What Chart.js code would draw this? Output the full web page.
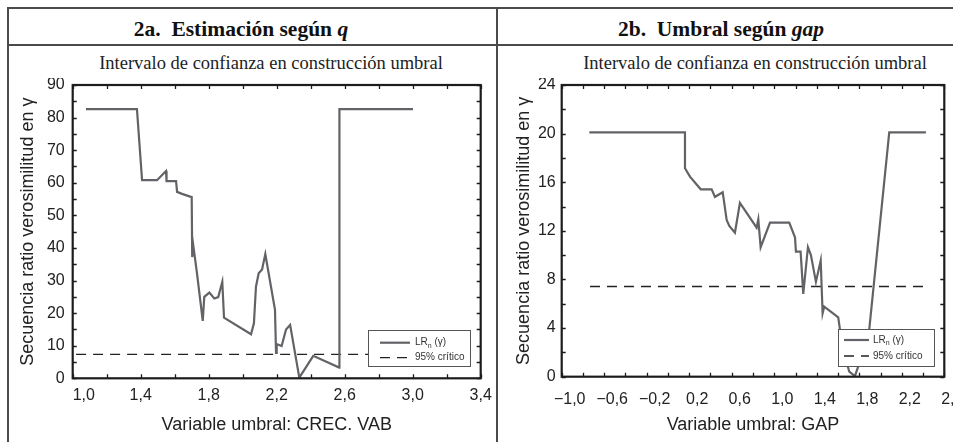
<!DOCTYPE html>
<html>
<head>
<meta charset="utf-8">
<script src="https://cdn.jsdelivr.net/npm/chart.js@4.4.0/dist/chart.umd.min.js"></script>
<style>
  body { margin: 0; background: #fff; }
  #page { position: relative; width: 953px; height: 442px; overflow: hidden; background: #fff; }
  .ln { position: absolute; background: #4a4a4a; }
  .head { position: absolute; font: bold 21.5px "Liberation Serif", serif; color: #111; text-align: center; white-space: pre; line-height: 24px; }
  .sub { position: absolute; font: 18.5px "Liberation Serif", serif; color: #222; text-align: center; white-space: nowrap; line-height: 20px; }
  canvas { position: absolute; }
</style>
</head>
<body>
<div id="page">
  <div class="ln" style="left:7px;top:7px;width:946px;height:2px"></div>
  <div class="ln" style="left:7px;top:44px;width:946px;height:2px"></div>
  <div class="ln" style="left:7px;top:7px;width:2px;height:435px"></div>
  <div class="ln" style="left:496px;top:7px;width:2px;height:435px"></div>

  <div class="head" style="left:41px;top:17px;width:400px">2a.  Estimación según <i>q</i></div>
  <div class="head" style="left:521px;top:17px;width:400px">2b.  Umbral según <i>gap</i></div>
  <div class="sub" style="left:71px;top:53px;width:400px">Intervalo de confianza en construcción umbral</div>
  <div class="sub" style="left:555px;top:53px;width:400px">Intervalo de confianza en construcción umbral</div>

  <canvas id="chartQ" width="486" height="364" style="left:10px;top:78px"></canvas>
  <canvas id="chartGap" width="480" height="364" style="left:500px;top:78px"></canvas>
</div>

<script>
// 2a: umbral según crecimiento del VAB
const crecX = [1.078, 1.378, 1.408, 1.496, 1.549, 1.552, 1.608, 1.614, 1.643, 1.700, 1.703, 1.709, 1.731, 1.765,
  1.774, 1.804, 1.833, 1.856, 1.880, 1.890, 2.049, 2.066, 2.078, 2.094, 2.114, 2.133, 2.190, 2.196, 2.200,
  2.229, 2.255, 2.279, 2.333, 2.415, 2.568, 2.569, 3.002];
const crecLR = [82.6, 82.6, 60.8, 60.8, 63.6, 60.5, 60.5, 57.2, 56.6, 55.6, 37.2, 40.9, 32.3, 17.6,
  25.0, 26.3, 24.5, 24.9, 29.6, 18.6, 13.5, 16.9, 28.1, 32.2, 33.4, 38.1, 21.0, 7.8, 10.5,
  9.9, 15.0, 16.4, 0.2, 6.9, 3.3, 82.6, 82.6];
const crecCritX = [1.02, 3.0];
const crecCrit = [7.35, 7.35];
const crecXTicks = [1.0, 1.4, 1.8, 2.2, 2.6, 3.0, 3.4];
const crecYTicks = [0, 10, 20, 30, 40, 50, 60, 70, 80, 90];

// 2b: umbral según gap
const gapX = [-0.740, 0.160, 0.160, 0.207, 0.308, 0.411, 0.442, 0.515, 0.552, 0.577, 0.630, 0.677, 0.834,
  0.850, 0.872, 0.960, 1.141, 1.195, 1.204, 1.248, 1.273, 1.317, 1.345, 1.392, 1.437, 1.455, 1.470,
  1.602, 1.618, 1.675, 1.706, 1.759, 1.800, 1.894, 2.082, 2.427];
const gapLR = [20.1, 20.1, 17.15, 16.46, 15.42, 15.42, 14.8, 15.18, 12.9, 12.4, 11.85, 14.3, 12.26,
  12.95, 10.65, 12.67, 12.67, 11.47, 10.29, 10.29, 6.81, 10.65, 10.0, 7.8, 9.55, 5.22, 5.76,
  4.89, 3.9, 1.37, 0.41, 0.05, 1.1, 3.9, 20.1, 20.1];
const gapCritX = [-0.734, 2.40];
const gapCrit = [7.42, 7.42];
const gapXTicks = [-1.0, -0.6, -0.2, 0.2, 0.6, 1.0, 1.4, 1.8, 2.2, 2.6];
const gapYTicks = [0, 4, 8, 12, 16, 20, 24];

const legendLabels = [['LR', 'n', ' (\u03b3)'], ['95% cr\u00edtico']];

const pts = (xs, ys) => xs.map((v, i) => ({ x: v, y: ys[i] }));
const fmt = v => (v < 0 ? '\u2212' : '') + Math.abs(v).toFixed(1).replace('.', ',');
const sans = '"Liberation Sans", Arial, sans-serif';

// marco completo con marcas hacia dentro en los cuatro lados
const framePlugin = {
  id: 'frame',
  afterDatasetsDraw(chart, args, o) {
    const { ctx, chartArea: a, scales: { x, y } } = chart;
    ctx.save();
    ctx.strokeStyle = '#1c1c1c';
    ctx.lineWidth = 1.3;
    ctx.beginPath();
    for (let v = x.min; v <= x.max + 1e-9; v += o.xStep) {
      const px = Math.round(x.getPixelForValue(v)) + 0.5;
      ctx.moveTo(px, a.bottom); ctx.lineTo(px, a.bottom - 4);
      ctx.moveTo(px, a.top); ctx.lineTo(px, a.top + 4);
    }
    for (let v = y.min; v <= y.max + 1e-9; v += o.yStep) {
      const py = Math.round(y.getPixelForValue(v)) + 0.5;
      ctx.moveTo(a.left, py); ctx.lineTo(a.left + 4, py);
      ctx.moveTo(a.right, py); ctx.lineTo(a.right - 4, py);
    }
    ctx.stroke();
    ctx.lineWidth = 2.2;
    ctx.strokeRect(a.left, a.top, a.width, a.height);
    ctx.restore();
  }
};

const legendPlugin = {
  id: 'boxLegend',
  afterDatasetsDraw(chart, args, o) {
    const { ctx, chartArea: a } = chart;
    const x0 = Math.round(a.right - o.right - o.width);
    const y0 = Math.round(a.bottom - o.bottom - o.height);
    ctx.save();
    ctx.fillStyle = '#fff';
    ctx.fillRect(x0, y0, o.width, o.height);
    ctx.strokeStyle = '#555';
    ctx.lineWidth = 1;
    ctx.strokeRect(x0 + 0.5, y0 + 0.5, o.width, o.height);
    chart.data.datasets.forEach((ds, i) => {
      const cy = y0 + o.rowY[i];
      ctx.strokeStyle = ds.borderColor;
      ctx.lineWidth = ds.borderWidth;
      ctx.setLineDash(ds.borderDash || []);
      ctx.beginPath();
      ctx.moveTo(x0 + o.lineX, cy);
      ctx.lineTo(x0 + o.lineX + o.lineW, cy);
      ctx.stroke();
      ctx.setLineDash([]);
      const parts = legendLabels[i];
      ctx.fillStyle = '#333';
      ctx.textBaseline = 'middle';
      let tx = x0 + o.textX;
      ctx.font = '10px ' + sans;
      ctx.fillText(parts[0], tx, cy);
      tx += ctx.measureText(parts[0]).width;
      if (parts[1]) {
        ctx.font = '7px ' + sans;
        ctx.fillText(parts[1], tx, cy + 3);
        tx += ctx.measureText(parts[1]).width;
        ctx.font = '10px ' + sans;
        ctx.fillText(parts[2], tx, cy);
      }
    });
    ctx.restore();
  }
};

function makeChart(id, c) {
  return new Chart(document.getElementById(id), {
    type: 'scatter',
    data: {
      datasets: [
        { label: 'LRn', data: pts(c.x, c.lr), showLine: true, borderColor: '#636367', borderWidth: 2.2,
          pointRadius: 0, tension: 0 },
        { label: '95% crítico', data: pts(c.critX, c.crit), showLine: true, borderColor: '#222',
          borderWidth: 1.3, borderDash: [10, 7], pointRadius: 0 }
      ]
    },
    options: {
      responsive: false,
      animation: false,
      events: [],
      layout: { padding: { left: 0, top: 7, right: c.padRight, bottom: 0 } },
      plugins: {
        legend: { display: false },
        tooltip: { enabled: false },
        frame: { xStep: 0.2, yStep: c.yStep },
        boxLegend: c.legend
      },
      scales: {
        x: {
          type: 'linear', min: c.xMin, max: c.xMax,
          afterBuildTicks: s => { s.ticks = c.xTicks.map(v => ({ value: v })); },
          afterFit: s => { s.height = c.xHeight; s.paddingLeft = 0; s.paddingRight = 0; },
          grid: { display: false, drawTicks: false },
          border: { display: false },
          ticks: {
            font: { family: sans, size: 16 }, color: '#222', padding: c.xPad, labelOffset: c.labelOffset,
            maxRotation: 0, autoSkip: false,
            callback: (v, i) => (i === 0 && c.padFirst ? '\u2007\u2007 ' : '') + fmt(v)
          },
          title: { display: true, text: c.xTitle, font: { family: sans, size: 18 }, color: '#222',
            padding: { top: 0, bottom: 6.2 } }
        },
        y: {
          type: 'linear', min: 0, max: c.yMax,
          afterBuildTicks: s => { s.ticks = c.yTicks.map(v => ({ value: v })); },
          afterFit: s => { s.width = c.yWidth; s.paddingTop = 0; s.paddingBottom = 0; },
          grid: { display: false, drawTicks: false },
          border: { display: false },
          ticks: { font: { family: sans, size: 16 }, color: '#222', padding: c.yPad, autoSkip: false },
          title: { display: true, text: 'Secuencia ratio verosimilitud en \u03b3', font: { family: sans, size: 18 },
            color: '#222', padding: { top: c.yTitlePad, bottom: 0 } }
        }
      }
    },
    plugins: [framePlugin, legendPlugin]
  });
}

makeChart('chartQ', {
  x: crecX, lr: crecLR, critX: crecCritX, crit: crecCrit,
  xMin: 1.0, xMax: 3.4, yMax: 90, yStep: 5,
  xTicks: crecXTicks, yTicks: crecYTicks,
  xTitle: 'Variable umbral: CREC. VAB',
  padRight: 15.3, xHeight: 63.7, yWidth: 62.7, xPad: 8, yPad: 8, yTitlePad: 7.2,
  labelOffset: 0, padFirst: true,
  legend: { right: 10.7, bottom: 12.3, width: 102, height: 36, rowY: [12.7, 27.7], lineX: 12, lineW: 30, textX: 47 }
});

// el lienzo sobresale del marco: la etiqueta 2,6 queda cortada por el borde como en el original
makeChart('chartGap', {
  x: gapX, lr: gapLR, critX: gapCritX, crit: gapCrit,
  xMin: -1.0, xMax: 2.6, yMax: 24, yStep: 2,
  xTicks: gapXTicks, yTicks: gapYTicks,
  xTitle: 'Variable umbral: GAP',
  padRight: 35.7, xHeight: 65.3, yWidth: 61.7, xPad: 13, yPad: 6, yTitlePad: 13.2,
  labelOffset: 8, padFirst: false,
  legend: { right: 10.3, bottom: 10.7, width: 96, height: 37, rowY: [11, 27], lineX: 6, lineW: 25, textX: 35 }
});
</script>
</body>
</html>
